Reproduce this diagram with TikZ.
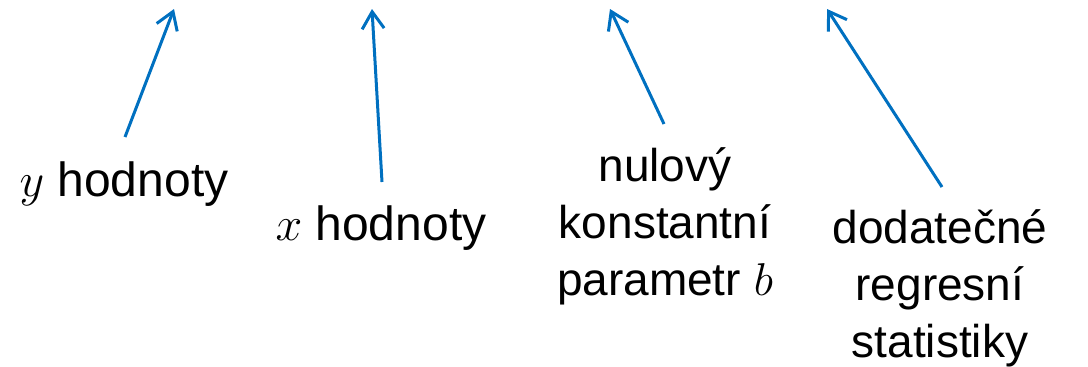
\documentclass[tikz,border=0pt]{standalone}
\usepackage{fix-cm}
\usepackage{fontspec}
\setmainfont{Liberation Sans}
\usetikzlibrary{arrows.meta}
\definecolor{pointer}{HTML}{0070C0}
\begin{document}
\begin{tikzpicture}[x=1pt,y=-1pt,
  label/.style={inner sep=0pt,anchor=base,align=center,
    font=\fontsize{46}{57}\selectfont},
  biglabel/.style={label,font=\fontsize{48}{57}\selectfont},
  pointer/.style={draw=pointer,line width=3pt,
    -{Straight Barb[length=17pt,width=22pt]}}]
\useasboundingbox (0,0) rectangle (1088,367);

% labels (base anchor sits on the last line)
\node[biglabel] (yval) at (124,196) {$y$ hodnoty};
\node[biglabel] (xval) at (381,240) {$x$ hodnoty};
\node[label] (bpar) at (665,295) {nulový\\konstantní\\parametr $b$};
\node[label] (stat) at (940,357) {dodatečné\\regresní\\statistiky};

% arrow ends
\coordinate (yt) at (125,137);  \coordinate (yh) at (174,9);
\coordinate (xt) at (382,182);  \coordinate (xh) at (372,9);
\coordinate (bt) at (664,124);  \coordinate (bh) at (610,9);
\coordinate (st) at (942,187);  \coordinate (sh) at (827,9);

\draw[pointer] (yt) -- (yh);
\draw[pointer] (xt) -- (xh);
\draw[pointer] (bt) -- (bh);
\draw[pointer] (st) -- (sh);
\end{tikzpicture}
\end{document}
